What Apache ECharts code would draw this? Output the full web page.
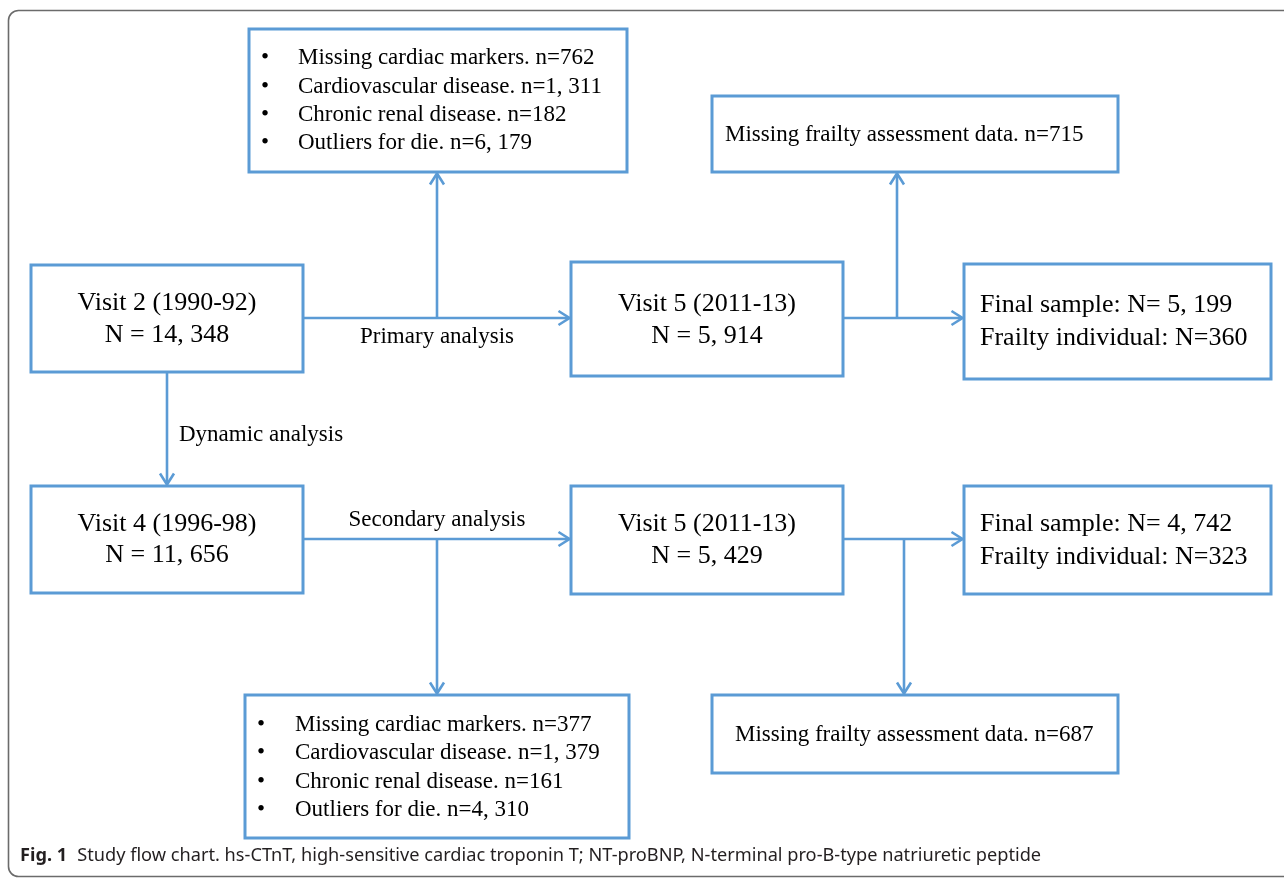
<!DOCTYPE html>
<html>
<head>
<meta charset="utf-8">
<script src="https://cdn.jsdelivr.net/npm/echarts@6/dist/echarts.min.js"></script>
<style>
html,body{margin:0;padding:0;background:#ffffff;}
#chart{width:1284px;height:879px;}
</style>
</head>
<body>
<div id="chart"></div>
<script>
// ---------- data (texts of the flow chart) ----------
const visitTitles = ['Visit 2 (1990-92)', 'Visit 5 (2011-13)', 'Visit 4 (1996-98)', 'Visit 5 (2011-13)'];
const visitCounts = ['N = 14, 348', 'N = 5, 914', 'N = 11, 656', 'N = 5, 429'];
const finalSamples = ['Final sample: N= 5, 199', 'Final sample: N= 4, 742'];
const frailtyIndividuals = ['Frailty individual: N=360', 'Frailty individual: N=323'];
const missingFrailty = ['Missing frailty assessment data. n=715', 'Missing frailty assessment data. n=687'];
const exclusionsVisit2 = ['Missing cardiac markers. n=762', 'Cardiovascular disease. n=1, 311', 'Chronic renal disease. n=182', 'Outliers for die. n=6, 179'];
const exclusionsVisit4 = ['Missing cardiac markers. n=377', 'Cardiovascular disease. n=1, 379', 'Chronic renal disease. n=161', 'Outliers for die. n=4, 310'];
const pathLabels = ['Primary analysis', 'Dynamic analysis', 'Secondary analysis'];
const captionLead = 'Fig. 1';
const captionText = 'Study flow chart. hs-CTnT, high-sensitive cardiac troponin T; NT-proBNP, N-terminal pro-B-type natriuretic peptide';

// ---------- layout (page units on hidden axes) ----------
const BLUE = '#5B9BD5';
const SERIF = '"Liberation Serif", "Times New Roman", serif';

const nodeLayout = {
  visit2:  {box: [31, 265, 303, 372],  tx: 167, ty: [303, 335], align: 'center', fs: 26},
  visit5a: {box: [571, 262, 843, 376], tx: 707, ty: [304, 336], align: 'center', fs: 26},
  visit4:  {box: [31, 486, 303, 593],  tx: 167, ty: [524, 555], align: 'center', fs: 26},
  visit5b: {box: [571, 486, 843, 594], tx: 707, ty: [524, 556], align: 'center', fs: 26},
  final1:  {box: [964, 264, 1271, 379], tx: 980, ty: [305, 338], align: 'left', fs: 26},
  final2:  {box: [964, 486, 1271, 594], tx: 980, ty: [524, 557], align: 'left', fs: 26},
  miss1:   {box: [712, 96, 1118, 172],  tx: 725, ty: [135], align: 'left', fs: 23},
  miss2:   {box: [712, 695, 1118, 773], tx: 735, ty: [735], align: 'left', fs: 23},
  excl1:   {box: [249, 29, 627, 172],   tx: 298, bx: 265, ty: [58, 87, 115, 143], align: 'left', fs: 23},
  excl2:   {box: [245, 695, 629, 838],  tx: 295, bx: 261, ty: [725, 753, 782, 810], align: 'left', fs: 23}
};

const nodes = [
  {id: 'visit2',  lines: [visitTitles[0], visitCounts[0]]},
  {id: 'visit5a', lines: [visitTitles[1], visitCounts[1]]},
  {id: 'visit4',  lines: [visitTitles[2], visitCounts[2]]},
  {id: 'visit5b', lines: [visitTitles[3], visitCounts[3]]},
  {id: 'final1',  lines: [finalSamples[0], frailtyIndividuals[0]]},
  {id: 'final2',  lines: [finalSamples[1], frailtyIndividuals[1]]},
  {id: 'miss1',   lines: [missingFrailty[0]]},
  {id: 'miss2',   lines: [missingFrailty[1]]},
  {id: 'excl1',   lines: exclusionsVisit2},
  {id: 'excl2',   lines: exclusionsVisit4}
];

const edgeLayout = [
  [[303, 318], [571, 318]],
  [[437, 318], [437, 172]],
  [[843, 318], [964, 318]],
  [[897, 318], [897, 172]],
  [[167, 372], [167, 486]],
  [[303, 539], [571, 539]],
  [[437, 539], [437, 695]],
  [[843, 539], [964, 539]],
  [[904, 539], [904, 695]]
];

const labelLayout = [
  {pos: [437, 337], align: 'center'},
  {pos: [179, 435], align: 'left'},
  {pos: [437, 520], align: 'center'}
];

// ---------- renderers ----------
function renderNode(params, api) {
  const n = nodes[api.value(0)];
  const lay = nodeLayout[n.id];
  const p1 = api.coord([lay.box[0], lay.box[1]]);
  const p2 = api.coord([lay.box[2], lay.box[3]]);
  const children = [{
    type: 'rect',
    shape: {x: p1[0], y: p1[1], width: p2[0] - p1[0], height: p2[1] - p1[1]},
    style: {fill: '#ffffff', stroke: BLUE, lineWidth: 3}
  }];
  n.lines.forEach(function (t, i) {
    const pt = api.coord([lay.tx, lay.ty[i]]);
    children.push({
      type: 'text',
      style: {text: t, x: pt[0], y: pt[1], fill: '#000000',
              font: lay.fs + 'px ' + SERIF, align: lay.align, verticalAlign: 'middle'}
    });
    if (lay.bx != null) {
      const pb = api.coord([lay.bx, lay.ty[i]]);
      children.push({
        type: 'text',
        style: {text: '\u2022', x: pb[0], y: pb[1], fill: '#000000',
                font: lay.fs + 'px ' + SERIF, align: 'center', verticalAlign: 'middle'}
      });
    }
  });
  return {type: 'group', children: children};
}

function renderEdge(params, api) {
  const seg = edgeLayout[api.value(0)];
  const a = api.coord(seg[0]);
  const b = api.coord(seg[1]);
  const dx = b[0] - a[0], dy = b[1] - a[1];
  const len = Math.sqrt(dx * dx + dy * dy);
  const ux = dx / len, uy = dy / len;
  const back = 11, side = 7;
  const tip = [b[0] - ux * 1.5, b[1] - uy * 1.5];
  const w1 = [tip[0] - ux * back - uy * side, tip[1] - uy * back + ux * side];
  const w2 = [tip[0] - ux * back + uy * side, tip[1] - uy * back - ux * side];
  return {
    type: 'group',
    children: [
      {type: 'line', shape: {x1: a[0], y1: a[1], x2: tip[0], y2: tip[1]},
       style: {stroke: BLUE, lineWidth: 2.6}},
      {type: 'polyline', shape: {points: [w1, tip, w2]},
       style: {stroke: BLUE, lineWidth: 2.6, fill: null, lineJoin: 'miter'}}
    ]
  };
}

function renderLabel(params, api) {
  const i = api.value(0);
  const lay = labelLayout[i];
  const p = api.coord(lay.pos);
  return {
    type: 'text',
    style: {text: pathLabels[i], x: p[0], y: p[1], fill: '#000000',
            font: '23px ' + SERIF, align: lay.align, verticalAlign: 'middle'}
  };
}

const chart = echarts.init(document.getElementById('chart'));
chart.setOption({
  backgroundColor: '#ffffff',
  animation: false,
  title: {
    left: 20,
    top: 847,
    padding: 0,
    text: '{b|' + captionLead + '}  {r|' + captionText + '}',
    textStyle: {
      rich: {
        b: {fontFamily: '"Noto Sans", sans-serif', fontWeight: 'bold', fontSize: 18.2, color: '#231f20'},
        r: {fontFamily: '"Noto Sans", sans-serif', fontWeight: 'normal', fontSize: 18.2, color: '#231f20'}
      }
    }
  },
  graphic: [{
    type: 'rect',
    z: 0,
    shape: {x: 8.5, y: 10.5, width: 1300, height: 866, r: 10},
    style: {fill: null, stroke: '#6b6b6b', lineWidth: 1.6}
  }],
  grid: {left: 0, right: 0, top: 0, bottom: 0},
  xAxis: {type: 'value', min: 0, max: 1284, show: false},
  yAxis: {type: 'value', min: 0, max: 879, inverse: true, show: false},
  series: [
    {type: 'custom', name: 'edges', clip: false, z: 2,
     data: edgeLayout.map(function (e, i) { return [i]; }), renderItem: renderEdge},
    {type: 'custom', name: 'nodes', clip: false, z: 3,
     data: nodes.map(function (n, i) { return [i]; }), renderItem: renderNode},
    {type: 'custom', name: 'labels', clip: false, z: 3,
     data: pathLabels.map(function (t, i) { return [i]; }), renderItem: renderLabel}
  ]
});
</script>
</body>
</html>
